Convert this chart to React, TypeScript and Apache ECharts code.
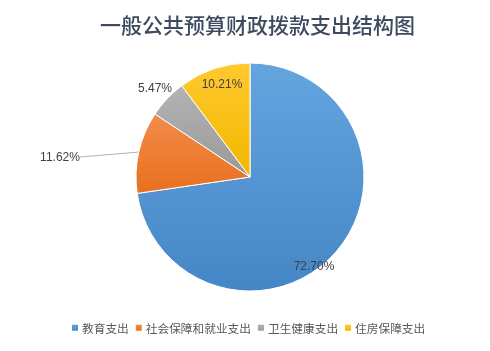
import React, { useEffect, useRef } from "react";
import * as echarts from "echarts";

const title = "一般公共预算财政拨款支出结构图";
const categories = ["教育支出", "社会保障和就业支出", "卫生健康支出", "住房保障支出"];
const values = [72.7, 11.62, 5.47, 10.21];
const labelTexts = ["72.70%", "11.62%", "5.47%", "10.21%"];
const colorsTop = ["#64A4DF", "#F28C4C", "#B3B3B3", "#FFC92E"];
const colorsBottom = ["#4586C6", "#E8701E", "#999999", "#F3B700"];
const labelPos = [
  [314, 266],
  [60, 157],
  [155, 88],
  [222, 84],
];

export default function App() {
  const ref = useRef<HTMLDivElement>(null);
  useEffect(() => {
    if (!ref.current) return;
    const chart = echarts.init(ref.current, null, { renderer: "svg" });
    const font = "'Liberation Sans', 'Noto Sans CJK SC', sans-serif";
    chart.setOption({
      animation: false,
      title: {
        text: title,
        left: 95,
        top: 8,
        textStyle: {
          fontFamily: "'Noto Sans CJK SC', sans-serif",
          fontSize: 21,
          fontWeight: 500,
          color: "#3E4B5E",
        },
      },
      legend: {
        top: 317,
        left: 65,
        itemWidth: 8,
        itemHeight: 8,
        itemGap: 5,
        icon: "rect",
        textStyle: {
          fontFamily: "'Noto Sans CJK SC', sans-serif",
          fontSize: 11.7,
          color: "#595959",
          padding: [0, 0, 0, -2],
        },
        data: categories,
      },
      series: [
        {
          type: "pie",
          center: [250, 177],
          radius: 114,
          startAngle: 90,
          clockwise: true,
          avoidLabelOverlap: false,
          itemStyle: { borderColor: "#ffffff", borderWidth: 1 },
          label: {
            show: true,
            fontFamily: font,
            fontSize: 12,
            color: "#404040",
            formatter: (p: any) => labelTexts[p.dataIndex],
          },
          labelLine: { show: false },
          labelLayout: (p: any) => {
            const [x, y] = labelPos[p.dataIndex];
            return { x, y, align: "center", verticalAlign: "middle" };
          },
          emphasis: { disabled: true },
          data: categories.map((name, i) => ({
            name,
            value: values[i],
            labelLine: i === 1 ? { show: true, length: 0, length2: 0, lineStyle: { color: "#A6B3C6", width: 1 } } : { show: false },
            itemStyle: {
              color: new echarts.graphic.LinearGradient(0, 0, 0, 1, [
                { offset: 0, color: colorsTop[i] },
                { offset: 1, color: colorsBottom[i] },
              ]),
            },
          })),
        },
      ],
    });
    return () => chart.dispose();
  }, []);
  return <div ref={ref} style={{ position: "fixed", left: 0, top: 0, width: 490, height: 351 }} />;
}
